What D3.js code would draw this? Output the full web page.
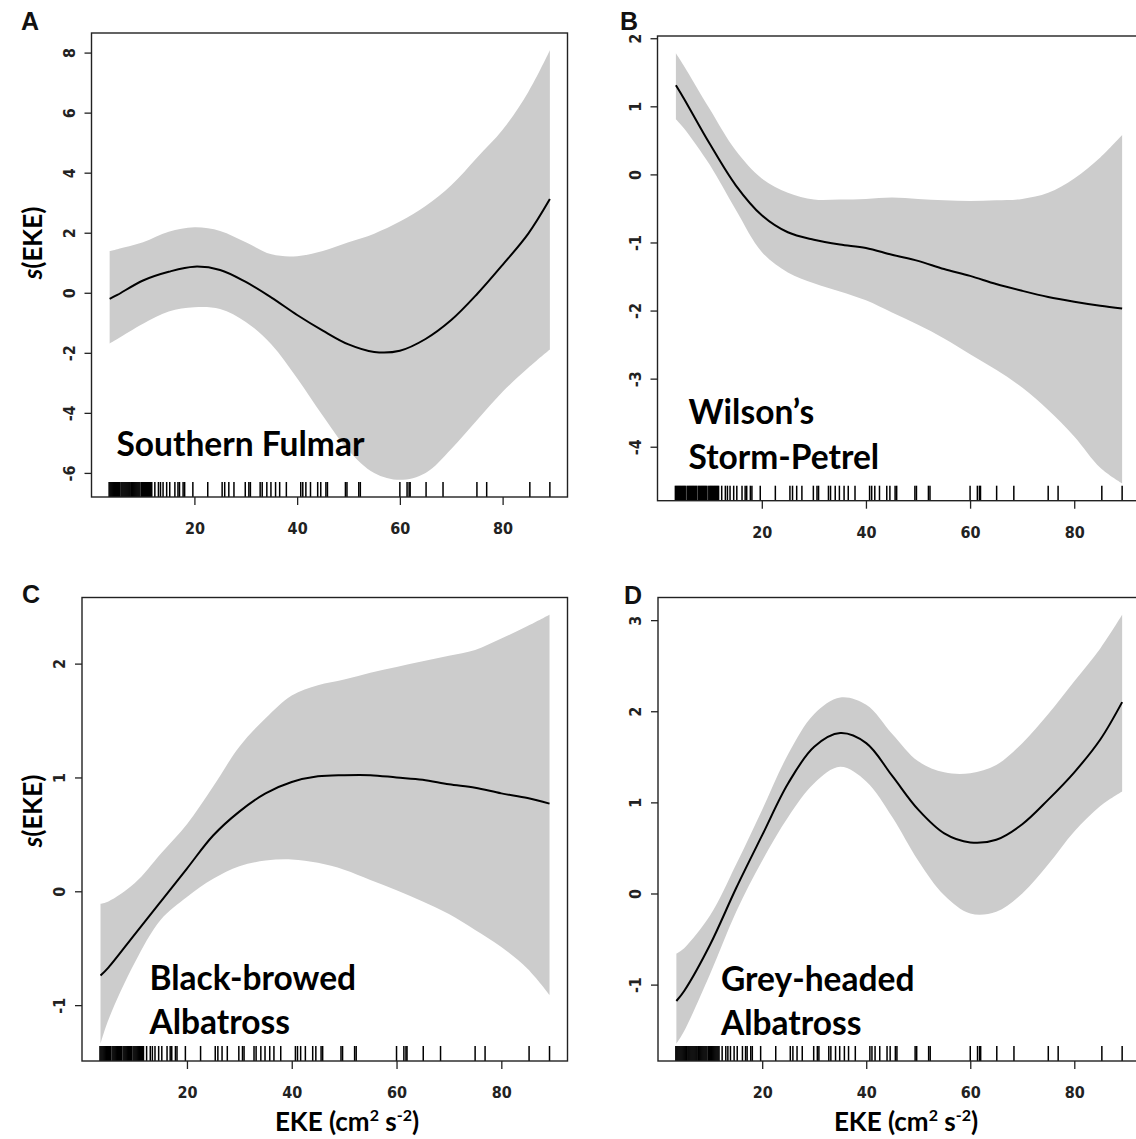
<!DOCTYPE html>
<html>
<head>
<meta charset="utf-8">
<script src="https://cdn.jsdelivr.net/npm/d3@7"></script>
<style>
  html, body { margin: 0; padding: 0; background: #fff; }
  svg { display: block; }
</style>
</head>
<body>
<svg id="chart" width="1136" height="1139"></svg>
<script>
// ---------------- data ----------------
const ekeGrid = [3.5, 5, 10, 15, 20, 25, 30, 35, 40, 45, 50, 55, 60, 65, 70, 75, 80, 85, 89.2];

const fitA   = [-0.20, -0.07, 0.41, 0.70, 0.87, 0.76, 0.36, -0.16, -0.74, -1.26, -1.72, -1.97, -1.93, -1.54, -0.91, -0.05, 0.93, 1.97, 3.12];
const upperA = [1.39, 1.45, 1.68, 2.03, 2.18, 2.06, 1.68, 1.28, 1.22, 1.39, 1.68, 1.97, 2.37, 2.89, 3.58, 4.50, 5.43, 6.69, 8.08];
const lowerA = [-1.69, -1.54, -1.03, -0.62, -0.48, -0.54, -0.97, -1.72, -2.85, -4.10, -5.25, -6.00, -6.23, -6.00, -5.20, -4.25, -3.30, -2.50, -1.89];

const fitB   = [1.31, 1.12, 0.45, -0.16, -0.60, -0.85, -0.96, -1.03, -1.08, -1.18, -1.27, -1.39, -1.49, -1.61, -1.71, -1.80, -1.87, -1.93, -1.97];
const upperB = [1.78, 1.60, 0.96, 0.35, -0.06, -0.27, -0.37, -0.37, -0.36, -0.34, -0.36, -0.38, -0.39, -0.38, -0.36, -0.27, -0.06, 0.25, 0.58];
const lowerB = [0.81, 0.68, 0.14, -0.52, -1.14, -1.44, -1.60, -1.72, -1.85, -2.03, -2.21, -2.41, -2.64, -2.87, -3.13, -3.46, -3.85, -4.31, -4.54];

const fitC   = [-0.74, -0.67, -0.38, -0.09, 0.20, 0.49, 0.70, 0.86, 0.96, 1.01, 1.02, 1.02, 1.00, 0.98, 0.94, 0.91, 0.86, 0.82, 0.77];
const upperC = [-0.11, -0.09, 0.07, 0.33, 0.59, 0.92, 1.27, 1.52, 1.72, 1.81, 1.86, 1.92, 1.97, 2.02, 2.07, 2.12, 2.22, 2.33, 2.43];
const lowerC = [-1.34, -1.13, -0.63, -0.25, -0.05, 0.11, 0.22, 0.27, 0.28, 0.25, 0.19, 0.10, 0.01, -0.09, -0.20, -0.34, -0.49, -0.68, -0.91];

const fitD   = [-1.18, -1.07, -0.56, 0.06, 0.64, 1.21, 1.61, 1.76, 1.65, 1.29, 0.92, 0.66, 0.56, 0.59, 0.76, 1.03, 1.33, 1.69, 2.10];
const upperD = [-0.66, -0.60, -0.24, 0.32, 0.92, 1.53, 1.97, 2.15, 2.07, 1.75, 1.45, 1.33, 1.32, 1.41, 1.65, 1.97, 2.33, 2.69, 3.06];
const lowerD = [-1.65, -1.51, -0.88, -0.20, 0.36, 0.84, 1.21, 1.39, 1.23, 0.84, 0.36, -0.02, -0.22, -0.20, 0.00, 0.32, 0.68, 0.96, 1.12];

const rugEKE = [3.4, 3.6, 3.8, 4.0, 4.2, 4.4, 4.6, 4.8, 5.0, 5.2, 5.4, 5.7, 5.9, 6.1, 6.3, 6.5, 6.7, 6.9, 7.1, 7.3,
  7.5, 7.8, 8.0, 8.2, 8.4, 8.6, 8.8, 9.0, 9.2, 9.4, 9.7, 9.9, 10.1, 10.3, 10.5, 10.7, 10.9, 11.1, 11.3, 11.5, 11.7,
  12.3, 13.0, 13.4, 13.9, 14.6, 15.2, 16.2, 16.8, 17.1, 17.8, 18.1, 19.7, 22.6, 25.4, 25.9, 26.7, 27.7,
  29.9, 30.6, 30.9, 32.8, 33.2, 34.1, 34.9, 35.8, 36.6, 37.9, 40.7, 41.1, 41.7, 42.6, 44.0, 44.6, 45.6, 45.9,
  49.4, 49.7, 52.0, 52.3, 60.0, 61.4, 61.8, 62.0, 65.1, 68.4, 75.0, 76.9, 85.3, 89.2];

const xTicks  = [20, 40, 60, 80];
const yTicksA = [-6, -4, -2, 0, 2, 4, 6, 8];
const yTicksB = [-4, -3, -2, -1, 0, 1, 2];
const yTicksC = [-1, 0, 1, 2];
const yTicksD = [-1, 0, 1, 2, 3];

const panelLetters = ["A", "B", "C", "D"];
const speciesA = ["Southern Fulmar"];
const speciesB = ["Wilson\u2019s", "Storm-Petrel"];
const speciesC = ["Black-browed", "Albatross"];
const speciesD = ["Grey-headed", "Albatross"];

// ---------------- layout ----------------
const panels = [
  { letter: panelLetters[0], fit: fitA, hi: upperA, lo: lowerA, yTicks: yTicksA, species: speciesA,
    box: { l: 91.5, r: 567.5, t: 33, b: 497 }, letterPos: [21, 30], labelPos: [116.5, 455.5], lineGap: 45,
    yTitle: [42, 243], xTitle: null },
  { letter: panelLetters[1], fit: fitB, hi: upperB, lo: lowerB, yTicks: yTicksB, species: speciesB,
    box: { l: 657.5, r: 1140, t: 36, b: 500.7 }, letterPos: [620, 30], labelPos: [688.5, 469], lineGap: 45,
    yTitle: null, xTitle: null },
  { letter: panelLetters[2], fit: fitC, hi: upperC, lo: lowerC, yTicks: yTicksC, species: speciesC,
    box: { l: 82, r: 567.5, t: 597.5, b: 1061 }, letterPos: [22, 603], labelPos: [149.5, 1034], lineGap: 44,
    yTitle: [42, 811], xTitle: [347, 1131] },
  { letter: panelLetters[3], fit: fitD, hi: upperD, lo: lowerD, yTicks: yTicksD, species: speciesD,
    box: { l: 658, r: 1140, t: 597.5, b: 1061 }, letterPos: [624, 604], labelPos: [721, 1035], lineGap: 44,
    yTitle: null, xTitle: [906, 1131] }
];

const svg = d3.select("#chart");
const tickFont = "'Liberation Sans Narrow', 'Arial Narrow', 'DejaVu Sans Condensed', sans-serif";
const labelFont = "Lato, 'Open Sans', sans-serif";

function measure(text, size, family, weight) {
  const t = svg.append("text").attr("font-family", family).attr("font-weight", weight)
    .attr("font-size", size).text(text);
  const w = t.node().getComputedTextLength();
  t.remove();
  return w;
}
const speciesSize = 100 * 248 / measure(speciesA[0], 100, labelFont, 700);

// x domain: R-style 4% extension of the data range
const xmin = d3.min(rugEKE), xmax = d3.max(rugEKE);
const xpad = (xmax - xmin) * 0.04;

panels.forEach(p => {
  const { l, r, t, b } = p.box;
  const ymin = d3.min(p.lo), ymax = d3.max(p.hi);
  const ypad = (ymax - ymin) * 0.04;
  const x = d3.scaleLinear().domain([xmin - xpad, xmax + xpad]).range([l, r]);
  const y = d3.scaleLinear().domain([ymin - ypad, ymax + ypad]).range([b, t]);
  const g = svg.append("g");

  const pts = ekeGrid.map((e, i) => ({ e, f: p.fit[i], hi: p.hi[i], lo: p.lo[i] }));
  const curve = d3.curveCatmullRom.alpha(0.5);

  // confidence band
  g.append("path").datum(pts)
    .attr("d", d3.area().x(d => x(d.e)).y0(d => y(d.lo)).y1(d => y(d.hi)).curve(curve))
    .attr("fill", "#cccccc").attr("stroke", "none");

  // fitted smooth
  g.append("path").datum(pts)
    .attr("d", d3.line().x(d => x(d.e)).y(d => y(d.f)).curve(curve))
    .attr("fill", "none").attr("stroke", "#000").attr("stroke-width", 2);

  // rug
  g.append("g").selectAll("line").data(rugEKE).join("line")
    .attr("x1", d => x(d)).attr("x2", d => x(d))
    .attr("y1", b).attr("y2", b - 15)
    .attr("stroke", "#000").attr("stroke-width", 1.5);

  // frame
  g.append("rect").attr("x", l).attr("y", t).attr("width", r - l).attr("height", b - t)
    .attr("fill", "none").attr("stroke", "#222").attr("stroke-width", 1.4);

  // axes
  const xa = g.append("g").attr("transform", `translate(0,${b})`)
    .call(d3.axisBottom(x).tickValues(xTicks).tickSize(8).tickSizeOuter(0).tickFormat(d3.format("d")));
  xa.select(".domain").remove();
  xa.selectAll(".tick line").attr("stroke", "#222").attr("stroke-width", 1.3);
  xa.selectAll(".tick text").attr("y", 37).attr("dy", null)
    .attr("font-family", tickFont).attr("font-weight", 700).attr("font-size", 16).attr("fill", "#222");

  const ya = g.append("g").attr("transform", `translate(${l},0)`)
    .call(d3.axisLeft(y).tickValues(p.yTicks).tickSize(7).tickSizeOuter(0).tickFormat(d => String(d)));
  ya.select(".domain").remove();
  ya.selectAll(".tick line").attr("stroke", "#222").attr("stroke-width", 1.3);
  ya.selectAll(".tick text")
    .attr("x", null).attr("dy", null)
    .attr("transform", "translate(-17,0) rotate(-90)")
    .attr("text-anchor", "middle")
    .attr("font-family", tickFont).attr("font-weight", 700).attr("font-size", 16).attr("fill", "#222");

  // panel letter
  svg.append("text").attr("x", p.letterPos[0]).attr("y", p.letterPos[1])
    .attr("font-family", "'Liberation Sans', Arial, sans-serif").attr("font-weight", 700)
    .attr("font-size", 25).attr("fill", "#111").text(p.letter);

  // species label
  p.species.forEach((s, i) => {
    svg.append("text").attr("x", p.labelPos[0]).attr("y", p.labelPos[1] - (p.species.length - 1 - i) * p.lineGap)
      .attr("font-family", labelFont).attr("font-weight", 700)
      .attr("font-size", speciesSize).attr("fill", "#000").text(s);
  });

  // y title
  if (p.yTitle) {
    const yt = svg.append("text")
      .attr("transform", `translate(${p.yTitle[0]},${p.yTitle[1]}) rotate(-90)`)
      .attr("text-anchor", "middle")
      .attr("font-family", labelFont).attr("font-weight", 700).attr("font-size", 26).attr("fill", "#000");
    yt.append("tspan").attr("font-style", "italic").text("s");
    yt.append("tspan").text("(EKE)");
  }

  // x title
  if (p.xTitle) {
    const xt = svg.append("text").attr("x", p.xTitle[0]).attr("y", p.xTitle[1])
      .attr("text-anchor", "middle")
      .attr("font-family", labelFont).attr("font-weight", 700).attr("font-size", 26).attr("fill", "#000");
    xt.append("tspan").text("EKE (cm");
    xt.append("tspan").attr("font-size", 16).attr("dy", -10).text("2");
    xt.append("tspan").attr("dy", 10).text(" s");
    xt.append("tspan").attr("font-size", 16).attr("dy", -10).text("-2");
    xt.append("tspan").attr("dy", 10).text(")");
  }
});
</script>
</body>
</html>
